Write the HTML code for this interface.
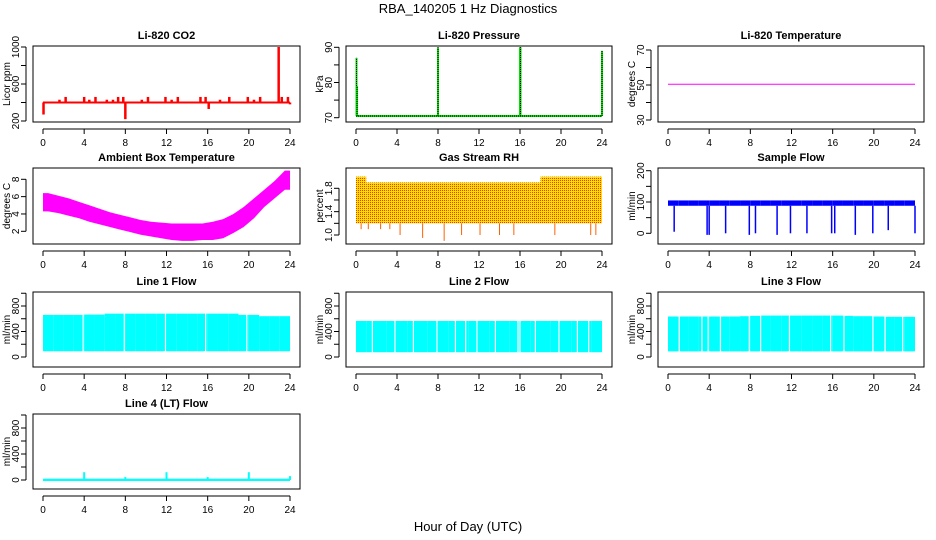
<!DOCTYPE html>
<html><head><meta charset="utf-8"><style>
html,body{margin:0;padding:0;background:#fff}
svg{display:block;font-family:"Liberation Sans",sans-serif}
</style></head><body>
<svg id="chart" width="936" height="540" viewBox="0 0 936 540" xmlns="http://www.w3.org/2000/svg">
<defs>
<pattern id="rhpat" width="2" height="2" patternUnits="userSpaceOnUse">
<rect width="2" height="2" fill="#ffe000"/><rect width="1" height="1" fill="#ff3000"/>
</pattern>
</defs>
<text x="468" y="13" text-anchor="middle" font-size="13">RBA_140205  1 Hz Diagnostics</text>
<text x="468" y="531" text-anchor="middle" font-size="13">Hour of Day (UTC)</text>
</svg>
<script>
// ---- data ----
const hourTicks = [0,4,8,12,16,20,24];
const co2Base = [400];
const co2SpikeHours = [1.6,2.2,4.0,4.5,5.1,6.2,6.8,7.3,7.8,9.6,10.2,11.9,12.5,13.1,15.3,15.8,17.2,18.1,19.9,20.5,21.1,22.9,23.2,23.8,0.05,8.0,16.1,24.0];
const co2SpikeValues = [430,460,460,430,460,430,430,460,460,430,460,460,430,460,460,460,430,460,460,430,460,1000,460,460,270,220,330,380];
const presBase = [70.5];
const presSpikeHours = [0.05,0.1,8.0,16.0,16.05,24.0];
const presSpikeValues = [87,79,90,90,90,89];
const tempValue = [50.4];
const ambLo = [4.3,4.1,3.8,3.5,3.1,2.8,2.5,2.2,1.9,1.6,1.4,1.2,1.0,0.9,0.9,1.0,1.0,1.2,1.8,2.5,3.5,4.8,5.8,6.8];
const ambHi = [6.4,6.1,5.8,5.4,5.0,4.6,4.2,3.9,3.6,3.3,3.1,3.0,2.9,2.9,2.9,2.9,3.1,3.4,4.0,4.8,5.8,6.8,7.8,9.0];
const rhLo = [1.2,1.1,1.1,1.1,1.0,1.2,1.1,1.1,1.1,1.2,1.2,1.2,1.2,1.2,1.2,1.2,1.1,1.1,1.1,1.2,1.1,1.2,1.2,1.0];
const rhHi = [2.0,1.9,1.9,1.9,1.9,1.9,1.9,1.9,1.9,1.9,1.9,1.9,1.9,1.9,1.9,1.9,1.9,1.9,2.0,2.0,2.0,2.0,2.0,2.0];
const rhDipHours = [0.5,1.2,2.4,3.3,4.3,6.5,8.6,10.3,12.1,14.0,15.4,19.4,22.9,23.4];
const rhDipValues = [1.1,1.1,1.1,1.1,1.0,0.95,0.9,1.0,1.0,1.0,1.0,1.0,1.0,1.0];
const flowLo = [88];
const flowHi = [105];
const flowDropHours = [0.6,3.8,4.0,5.6,7.9,8.5,10.6,11.9,13.5,15.9,16.2,18.2,19.9,21.4,24.0];
const flowDropValues = [5,-5,-5,0,-5,0,-5,0,0,0,0,-5,0,10,0];
const line1Hi = [660,660,660,660,665,665,680,680,680,680,680,680,680,680,680,680,680,680,680,660,660,640,640,640];
const line1Lo = [90];
const line1Gaps = [3.9,7.9,11.9,15.8,19.8];
const line2Hi = [565,565,565,565,565,565,565,565,565,565,565,565,565,565,565,565,565,565,565,565,565,565,565,565];
const line2Lo = [75];
const line2Gaps = [1.6,3.8,5.6,7.9,9.7,10.7,11.8,13.6,15.8,16.0,17.5,19.8,21.6,22.7];
const line3Hi = [635,635,635,635,635,635,635,640,645,650,650,650,650,650,650,650,650,645,640,640,635,630,630,630];
const line3Lo = [88];
const line3Gaps = [1.1,3.3,3.9,5.1,7.9,9.0,11.8,15.8,17.1,19.9,21.1,22.8];
const line4Base = [20];
const line4SpikeHours = [4,8,12,16,20,24];
const line4SpikeValues = [120,45,120,45,120,60];

// ---- helpers ----
const svg = document.getElementById('chart');
const NS = 'http://www.w3.org/2000/svg';
function mk(tag, attrs, parent) {
  const e = document.createElementNS(NS, tag);
  for (const k in attrs) e.setAttribute(k, attrs[k]);
  (parent || svg).appendChild(e);
  return e;
}
const colL = [33,346,658], colR = [300,612,924], colX0 = [43,356,668], colX24 = [290,602,915];
const rowT = [46,168,292,414], rowB = [122,244,367,489];

function makePanel(col, row, title, ylab, v1, p1, v2, p2, ticks, labels) {
  const g = mk('g', {});
  
  
  const L = colL[col], R = colR[col], T = rowT[row], B = rowB[row];
  const xs = h => colX0[col] + (colX24[col]-colX0[col]) * h / 24;
  const ys = v => p1 + (v - v1) * (p2 - p1) / (v2 - v1);
  const plot = mk('g', {}, g);
  
  
  const t = mk('text', {x:(L+R)/2, y:T-7, 'text-anchor':'middle', 'font-size':11, 'font-weight':'bold'}, g);
  t.textContent = title;
  
  
  const frame = mk('rect', {x:L, y:T, width:R-L, height:B-T, fill:'none', stroke:'#000', 'stroke-width':1}, g);
  
  
  const ax = B + 7;
  const xl = mk('line', {x1:xs(0), x2:xs(24), y1:ax, y2:ax, stroke:'#000'}, g);
  
  
  hourTicks.forEach(h => {
    mk('line', {x1:xs(h), x2:xs(h), y1:ax, y2:ax+5, stroke:'#000'}, g);
    const tl = mk('text', {x:xs(h), y:ax+17, 'text-anchor':'middle', 'font-size':10}, g);
    tl.textContent = h;
    
    
  });
  const yx = L - 7;
  const yl = mk('line', {x1:yx, x2:yx, y1:ys(ticks[0]), y2:ys(ticks[ticks.length-1]), stroke:'#000'}, g);
  
  
  ticks.forEach((v,i) => {
    mk('line', {x1:yx-5, x2:yx, y1:ys(v), y2:ys(v), stroke:'#000'}, g);
    if (labels[i] !== '') {
      const tl = mk('text', {x:0, y:0, 'text-anchor':'middle', 'font-size':10, transform:`translate(${yx-7},${ys(v)}) rotate(-90)`}, g);
      tl.textContent = labels[i];
      
      
    }
  });
  const yt = mk('text', {x:0, y:0, 'text-anchor':'middle', 'font-size':10, transform:`translate(${L-23},${(T+B)/2}) rotate(-90)`}, g);
  yt.textContent = ylab;
  
  
  return {g: plot, xs, ys};
}
function vbar(p, h, v0, v1, color, w) {
  return mk('line', {x1:p.xs(h), x2:p.xs(h), y1:p.ys(v0), y2:p.ys(v1), stroke:color, 'stroke-width':w||2}, p.g);
}
function bands(p, lo, hi, fill) {
  hi.forEach((v,i) => {
    const l = lo.length === 1 ? lo[0] : lo[i];
    const x0 = p.xs(i), x1 = p.xs(i+1), y0 = p.ys(v), y1 = p.ys(l);
    const r = mk('rect', {x:x0, y:y0, width:x1-x0, height:y1-y0, fill:fill}, p.g);
    
    
  });
}
function smoothBand(p, lo, hi, fill) {
  const pts = [];
  pts.push([p.xs(0), p.ys(hi[0])]);
  hi.forEach((v,i) => pts.push([p.xs(i+0.5), p.ys(v)]));
  pts.push([p.xs(24), p.ys(hi[hi.length-1])]);
  pts.push([p.xs(24), p.ys(lo[lo.length-1])]);
  for (let i = lo.length-1; i >= 0; i--) pts.push([p.xs(i+0.5), p.ys(lo[i])]);
  pts.push([p.xs(0), p.ys(lo[0])]);
  const e = mk('polygon', {points: pts.map(q => q.join(',')).join(' '), fill: fill}, p.g);
  
  
}

// CO2
let p = makePanel(0,0,'Li-820 CO2','Licor ppm',1000,47,200,121,[200,400,600,800,1000],['200','','600','','1000']);
let bl = mk('line', {x1:p.xs(0), x2:p.xs(24), y1:p.ys(co2Base[0]), y2:p.ys(co2Base[0]), stroke:'#ff0000', 'stroke-width':2}, p.g);


co2SpikeHours.forEach((h,i) => {
  const e = vbar(p, h, co2Base[0], co2SpikeValues[i], '#ff0000', 2.5);
  
  
});

// Pressure
p = makePanel(1,0,'Li-820 Pressure','kPa',90,47.3,70,117.7,[70,75,80,85,90],['70','','80','','90']);
bl = mk('line', {x1:p.xs(0), x2:p.xs(24), y1:p.ys(presBase[0]), y2:p.ys(presBase[0]), stroke:'#00e000', 'stroke-width':2}, p.g);


bl = mk('line', {x1:p.xs(0), x2:p.xs(24), y1:p.ys(presBase[0]), y2:p.ys(presBase[0]), stroke:'#000', 'stroke-width':1, 'stroke-dasharray':'1,1'}, p.g);


presSpikeHours.forEach((h,i) => {
  const e = vbar(p, h, presBase[0], presSpikeValues[i], '#00e000', 2);
  
  
  const d = mk('line', {x1:p.xs(h), x2:p.xs(h), y1:p.ys(presBase[0]), y2:p.ys(presSpikeValues[i]), stroke:'#000', 'stroke-width':1, 'stroke-dasharray':'1,1'}, p.g);
  
  
});

// Li-820 Temperature
p = makePanel(2,0,'Li-820 Temperature','degrees C',70,50,30,120,[30,40,50,60,70],['30','','50','','70']);
bl = mk('line', {x1:p.xs(0), x2:p.xs(24), y1:p.ys(tempValue[0]), y2:p.ys(tempValue[0]), stroke:'#ff00ff', 'stroke-width':1}, p.g);



// Ambient
p = makePanel(0,1,'Ambient Box Temperature','degrees C',8,179.3,2,231.3,[2,4,6,8],['2','4','6','8']);
smoothBand(p, ambLo, ambHi, '#ff00ff');

// RH
p = makePanel(1,1,'Gas Stream RH','percent',1.8,188.3,1.0,235,[1.0,1.2,1.4,1.6,1.8],['1.0','','1.4','','1.8']);
bands(p, rhLo.map(v => Math.max(v, 1.2)), rhHi, 'url(#rhpat)');
rhDipHours.forEach((h,i) => {
  const e = vbar(p, h, 1.2, rhDipValues[i], '#ff6000', 1);
  
  
});

// Sample flow
p = makePanel(2,1,'Sample Flow','ml/min',200,170.7,0,233.3,[0,50,100,150,200],['0','','100','','200']);
bands(p, flowLo, ambHi.map(() => flowHi[0]), '#0000ff');
flowDropHours.forEach((h,i) => {
  const e = vbar(p, h, flowLo[0], flowDropValues[i], '#0000ff', 1.5);
  
  
});

// Line flows
const lt = [0,200,400,600,800,1000], ll = ['0','','400','','800',''];
function linePanel(col, title, hi, lo, gaps) {
  const q = makePanel(col,2,title,'ml/min',800,306,0,357,lt,ll);
  bands(q, lo, hi, '#00ffff');
  gaps.forEach(h => {
    const e = vbar(q, h, lo[0]-10, 700, '#ffffff', 1.2);
    
    
  });
}
linePanel(0,'Line 1 Flow', line1Hi, line1Lo, line1Gaps);
linePanel(1,'Line 2 Flow', line2Hi, line2Lo, line2Gaps);
linePanel(2,'Line 3 Flow', line3Hi, line3Lo, line3Gaps);

// Line 4
p = makePanel(0,3,'Line 4 (LT) Flow','ml/min',800,428,0,480,lt,ll);
bl = mk('rect', {x:p.xs(0), y:p.ys(line4Base[0]), width:p.xs(24)-p.xs(0), height:p.ys(0)-p.ys(line4Base[0])+1, fill:'#00ffff'}, p.g);


line4SpikeHours.forEach((h,i) => {
  const e = vbar(p, h, 0, line4SpikeValues[i], '#00ffff', 2);
  
  
});
</script>
</body></html>
